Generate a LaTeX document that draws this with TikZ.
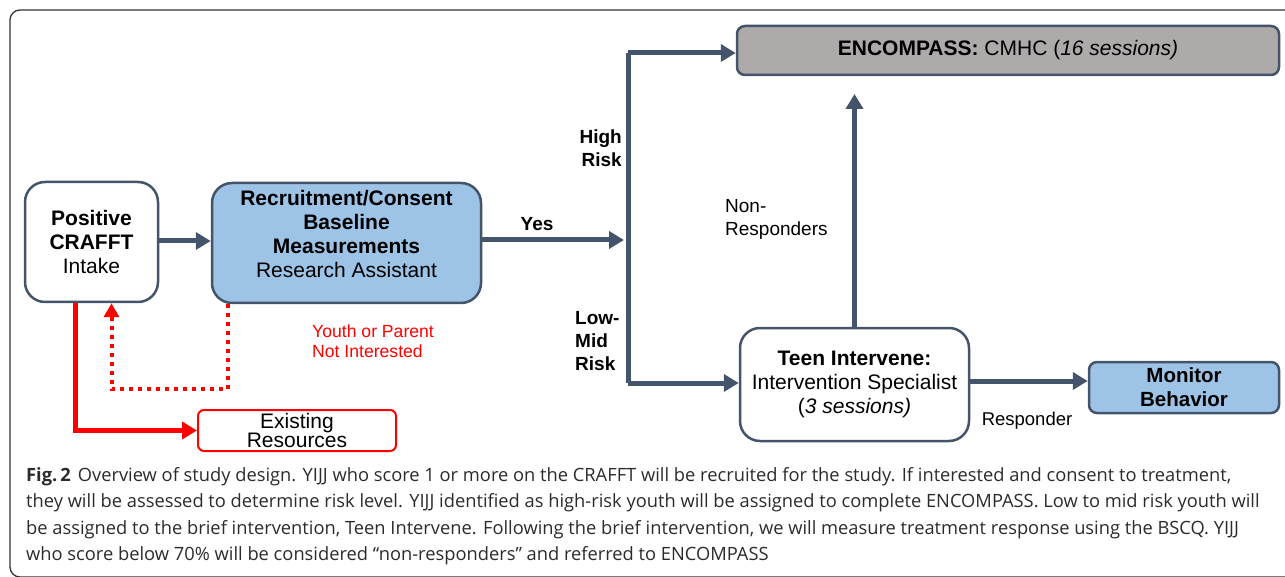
\documentclass[tikz,border=0pt]{standalone}
\usepackage{fontspec}
\setmainfont{Liberation Sans}
\newfontfamily\capfont{Open Sans}
\usetikzlibrary{arrows.meta,positioning}

\definecolor{slate}{HTML}{44546A}
\definecolor{paleblue}{HTML}{9DC3E6}
\definecolor{boxgray}{HTML}{AEAAAA}
\definecolor{captext}{HTML}{2B2B2B}

\tikzset{
  stagebox/.style={draw=slate,line width=2.5pt,rounded corners=20pt,
    fill=white,align=center,inner sep=0pt,
    font=\fontsize{21}{24}\selectfont},
  flatbox/.style={stagebox,rounded corners=8pt},
  flow/.style={slate,line width=5pt,-{Triangle[length=15pt,width=17pt]}},
  refer/.style={red,line width=5pt,-{Triangle[length=15pt,width=17pt]}},
  declined/.style={red,line width=4pt,dash pattern=on 4pt off 5pt,
    -{Triangle[length=14pt,width=15pt]}},
  risklabel/.style={font=\bfseries\fontsize{19}{23}\selectfont,inner sep=0pt},
  steplabel/.style={font=\fontsize{19}{23}\selectfont,inner sep=0pt}
}

\begin{document}
\begin{tikzpicture}[x=1pt,y=-1pt]
  \clip (0,0) rectangle (1285,577);
  % frame
  \draw[black!80,line width=1.3pt,rounded corners=10pt]
    (1300,10) -- (10,10) -- (10,577) -- (1300,577);

  % boxes
  \node[stagebox,minimum width=133pt,minimum height=120pt] (intake)
    at (91.5,242) {\textbf{Positive}\\\textbf{CRAFFT}\\Intake};
  \node[stagebox,fill=paleblue,minimum width=269pt,minimum height=120pt] (recruit)
    at (346.5,243) {\textbf{Recruitment/Consent}\\\textbf{Baseline}\\
      \textbf{Measurements}\\Research Assistant\\[-6pt]\mbox{}};
  \node[flatbox,fill=boxgray,minimum width=542pt,minimum height=49pt]
    (encompass) at (1008,50.5) {\textbf{ENCOMPASS:} CMHC (\textit{16 sessions)}};
  \node[stagebox,minimum width=229pt,minimum height=113pt] (teen)
    at (854.5,384.5) {\textbf{Teen Intervene:}\\Intervention Specialist\\
      (\textit{3 sessions)}};
  \node[flatbox,fill=paleblue,minimum width=190pt,minimum height=51pt,
    font=\fontsize{20.5}{24}\selectfont] (monitor)
    at (1184,387.5) {\textbf{Monitor}\\\textbf{Behavior}};
  \node[stagebox,draw=red,rounded corners=6pt,line width=2pt,
    minimum width=198pt,minimum height=41pt,
    font=\fontsize{21}{19}\selectfont] (existing)
    at (297,430.5) {Existing\\Resources};

  % branch points
  \coordinate (split) at (624,240);
  \coordinate (hi) at (628,53);
  \coordinate (lo) at (628,383);
  \coordinate (nrtop) at (854.5,94);

  % main flow
  \draw[flow] (intake.east |- 0,241) -- (recruit.west |- 0,241);
  \draw[flow] (recruit.east |- split) -- (split);
  \draw[slate,line width=5pt] (hi) -- (lo);
  \draw[flow] (hi) -- (encompass.west |- hi);
  \draw[flow] (lo) -- (teen.west |- lo);
  \draw[flow] (teen.north) -- (nrtop);
  \draw[flow] (teen.east |- 0,381) -- (monitor.west |- 0,381);

  % side routes
  \draw[declined] ([xshift=17pt]recruit.south west) -- ++(0,85)
    -| ([xshift=20pt]intake.south);
  \draw[refer] ([xshift=-16pt]intake.south) |- (existing.west);

  % labels
  \node[risklabel] (yes) at (537,224) {Yes};
  \node[risklabel,align=right,anchor=east] (high) at (622,148) {High\\Risk};
  \node[risklabel,align=left,anchor=west] (low) at (575,341) {Low-\\Mid\\Risk};
  \node[steplabel,align=left,anchor=west] (nonresp) at (725,219)
    {Non-\\Responders};
  \node[steplabel,font=\fontsize{18.5}{22}\selectfont] (resp) at (1027,421)
    {Responder};
  \node[font=\fontsize{17.6}{20}\selectfont,text=red,align=left,anchor=west,
    inner sep=0pt] (optout) at (312,341) {Youth or Parent\\Not Interested};

  % caption
  \node[anchor=north west,align=left,inner sep=0pt,text=captext,
    font=\capfont\fontsize{18.3}{26.5}\selectfont] (caption) at (26,467)
    {\textbf{Fig.\,2}\hspace{7pt}Overview of study design. YIJJ who score 1 or more on the CRAFFT will be recruited for the study. If interested and consent to treatment,\\
     they will be assessed to determine risk level. YIJJ identified as high-risk youth will be assigned to complete ENCOMPASS. Low to mid risk youth will\\
     be assigned to the brief intervention, Teen Intervene. Following the brief intervention, we will measure treatment response using the BSCQ. YIJJ\\
     who score below 70\% will be considered “non-responders” and referred to ENCOMPASS};
\end{tikzpicture}
\end{document}
